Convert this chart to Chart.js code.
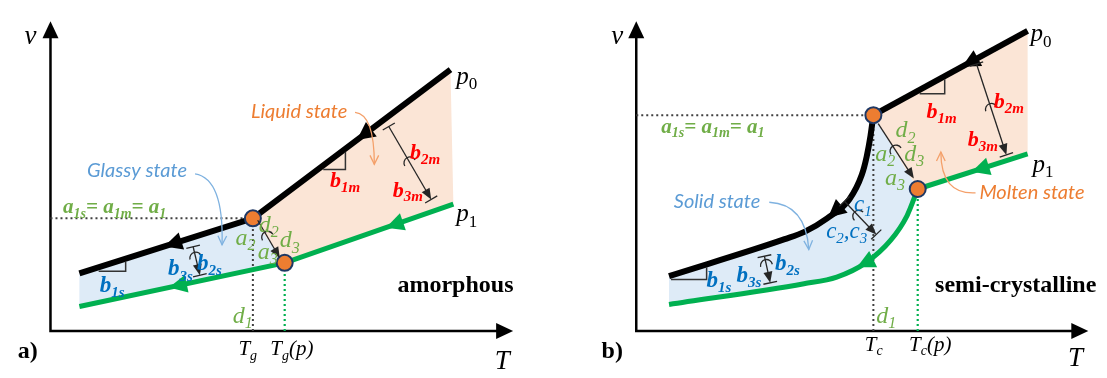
<!DOCTYPE html>
<html lang="en">
<head>
<meta charset="UTF-8">
<title>Specific volume v(T): amorphous vs semi-crystalline</title>
<script src="https://cdn.jsdelivr.net/npm/chart.js@4.4.0/dist/chart.umd.min.js"></script>
<style>
  body { margin: 0; background: #fff; }
  #wrap { position: relative; width: 1107px; height: 378px; }
  canvas { position: absolute; top: 0; }
  #chart-a { left: 0; }
  #chart-b { left: 553px; }
</style>
</head>
<body>
<div id="wrap">
  <canvas id="chart-a" width="553" height="378"></canvas>
  <canvas id="chart-b" width="554" height="378"></canvas>
</div>
<script>
// T / v in plot units, origin = corner of the axes

// a) amorphous
const aBlackT = [30, 210, 415];      // isobar p0
const aBlackV = [61, 119, 276];
const aGreenT = [30, 243, 418];      // isobar p1
const aGreenV = [26, 72, 134];

// b) semi-crystalline
const bSolidBlackT = [34, 154, 175, 198, 221, 234, 239, 243, 246];
const bSolidBlackV = [58, 97, 105, 119, 139, 165, 184, 206, 228];
const bMeltBlackT = [246, 406];
const bMeltBlackV = [228, 317];
const bSolidGreenT = [34, 174, 208, 238, 264, 281, 292];
const bSolidGreenV = [28, 50, 57, 72, 96, 122, 150];
const bMeltGreenT = [292, 406];
const bMeltGreenV = [150, 187];

// colours
const GREEN = '#00b050', PEACH = '#fbe5d6', ICE = '#deebf7';
const ORANGE = '#ed7d31', NAVY = '#1f3864', RED = '#ff0000';
const BLUE = '#0070c0', LBLUE = '#5b9bd5', LGREEN = '#70ad47', GREY = '#404040';
const SERIF = '"Liberation Serif", "DejaVu Serif", serif';
const SANS = 'Lato, "Open Sans", sans-serif';

// text styles
const AX = {size: 27, italic: true};
const PLAB = {size: 25, italic: true, subItalic: false};
const TICK = {size: 21, italic: true};
const PANEL = {size: 24, bold: true};
const NAME = {size: 24, bold: true};
const RD_B = {size: 22, bold: true, italic: true, color: RED};
const BL_B = {size: 23, bold: true, italic: true, color: BLUE};
const BL_I = {size: 23, italic: true, color: BLUE};
const GR_B = {size: 21, bold: true, italic: true, color: LGREEN};
const GR_I = {size: 24, italic: true, color: LGREEN};
const ST_OR = {size: 20, italic: true, color: ORANGE, family: SANS};
const ST_BL = {size: 20, italic: true, color: LBLUE, family: SANS};

const xy = (T, V) => T.map((t, i) => ({x: t, y: V[i]}));

function line(T, V, color, width, extra) {
  return Object.assign({
    data: xy(T, V), showLine: true, borderColor: color, borderWidth: width,
    pointRadius: 0, fill: false
  }, extra || {});
}

function dots(points) {
  return {
    data: points, showLine: false, pointRadius: 8, pointHoverRadius: 8,
    backgroundColor: ORANGE, borderColor: NAVY, borderWidth: 2
  };
}

function richText(ctx, str, x, y, st) {
  const fam = st.family || SERIF;
  const size = st.size;
  const subSize = Math.round(size * 0.66);
  const subIt = st.subItalic === undefined ? st.italic : st.subItalic;
  const font = (it, sz) => `${it ? 'italic ' : ''}${st.bold ? 'bold ' : ''}${sz}px ${fam}`;
  ctx.save();
  ctx.fillStyle = st.color || '#000';
  ctx.textBaseline = 'alphabetic';
  let w = 0;
  const runs = str.split(/(_\{[^}]*\})/).filter(Boolean).map(p => {
    const sub = p.startsWith('_{');
    const txt = sub ? p.slice(2, -1) : p;
    const f = sub ? font(subIt, subSize) : font(st.italic, size);
    ctx.font = f;
    const rw = ctx.measureText(txt).width;
    w += rw;
    return {txt, sub, f, rw};
  });
  let cx = st.align === 'center' ? x - w / 2 : x;
  const base = y + size * 0.3;
  runs.forEach(r => {
    ctx.font = r.f;
    ctx.fillText(r.txt, cx, r.sub ? base + size * 0.22 : base);
    cx += r.rw;
  });
  ctx.restore();
}

function head(ctx, tip, ang, len, hw) {
  ctx.beginPath();
  ctx.moveTo(tip.x, tip.y);
  ctx.lineTo(tip.x - len * Math.cos(ang) + hw * Math.sin(ang), tip.y - len * Math.sin(ang) - hw * Math.cos(ang));
  ctx.lineTo(tip.x - len * Math.cos(ang) - hw * Math.sin(ang), tip.y - len * Math.sin(ang) + hw * Math.cos(ang));
  ctx.closePath();
  ctx.fill();
}

// point on a dataset's polyline at a given T, plus local direction
function onLine(chart, ds, T) {
  const d = chart.data.datasets[ds].data;
  const sx = chart.scales.x, sy = chart.scales.y;
  let i = 0;
  while (i < d.length - 2 && d[i + 1].x < T) i++;
  const f = (T - d[i].x) / (d[i + 1].x - d[i].x);
  const v = d[i].y + f * (d[i + 1].y - d[i].y);
  const p0 = {x: sx.getPixelForValue(d[i].x), y: sy.getPixelForValue(d[i].y)};
  const p1 = {x: sx.getPixelForValue(d[i + 1].x), y: sy.getPixelForValue(d[i + 1].y)};
  return {x: sx.getPixelForValue(T), y: sy.getPixelForValue(v), ang: Math.atan2(p0.y - p1.y, p0.x - p1.x)};
}

function sketch(deco) {
  return {
    id: 'sketch',
    beforeDatasetsDraw(chart) {
      const ctx = chart.ctx, sx = chart.scales.x, sy = chart.scales.y;
      // shaded state regions, built from the isobar elements themselves
      deco.fills.forEach(f => {
        const up = chart.getDatasetMeta(f.up.ds).dataset;
        const lo = chart.getDatasetMeta(f.lo.ds).dataset;
        up.updateControlPoints(chart.chartArea, 'x');
        lo.updateControlPoints(chart.chartArea, 'x');
        ctx.save();
        ctx.beginPath();
        up.pathSegment(ctx, {start: 0, end: up.points.length - 1, loop: false}, {start: f.up.start, end: f.up.end, move: true});
        lo.pathSegment(ctx, {start: 0, end: lo.points.length - 1, loop: false}, {start: f.lo.start, end: f.lo.end, move: false, reverse: true});
        ctx.closePath();
        ctx.fillStyle = f.color;
        ctx.fill();
        ctx.restore();
      });
      // axes with arrows
      const o = {x: sx.getPixelForValue(0), y: sy.getPixelForValue(0)};
      const top = sy.getPixelForValue(deco.axisV), right = sx.getPixelForValue(deco.axisT);
      ctx.save();
      ctx.strokeStyle = '#000';
      ctx.fillStyle = '#000';
      ctx.lineWidth = 2.5;
      ctx.beginPath();
      ctx.moveTo(o.x, top + 10);
      ctx.lineTo(o.x, o.y);
      ctx.lineTo(right - 10, o.y);
      ctx.stroke();
      head(ctx, {x: o.x, y: top}, -Math.PI / 2, 17, 8);
      head(ctx, {x: right, y: o.y}, 0, 17, 8);
      ctx.restore();
    },
    afterDatasetsDraw(chart) {
      const ctx = chart.ctx, sx = chart.scales.x, sy = chart.scales.y;
      const P = a => ({x: sx.getPixelForValue(a[0]), y: sy.getPixelForValue(a[1])});
      ctx.save();
      // cooling direction arrows on the isobars
      deco.lineArrows.forEach(a => {
        const p = onLine(chart, a.ds, a.at);
        ctx.fillStyle = chart.data.datasets[a.ds].borderColor;
        head(ctx, p, p.ang, 18, 9);
      });
      // slope triangles
      ctx.strokeStyle = '#333';
      ctx.lineWidth = 1.5;
      deco.slopes.forEach(s => {
        const p1 = onLine(chart, s.ds, s.from), p2 = onLine(chart, s.ds, s.to);
        ctx.beginPath();
        ctx.moveTo(p1.x, p1.y + 4);
        ctx.lineTo(p2.x, p1.y + 4);
        ctx.lineTo(p2.x, p2.y + 3);
        ctx.stroke();
      });
      // path vectors
      ctx.strokeStyle = '#262626';
      ctx.fillStyle = '#262626';
      ctx.lineWidth = 1.3;
      deco.vectors.forEach(v => {
        const a = P(v.from), b = P(v.to);
        const ang = Math.atan2(b.y - a.y, b.x - a.x);
        const nx = -Math.sin(ang), ny = Math.cos(ang);
        ctx.beginPath();
        ctx.moveTo(a.x, a.y);
        ctx.lineTo(b.x - 8 * Math.cos(ang), b.y - 8 * Math.sin(ang));
        ctx.stroke();
        head(ctx, b, ang, 11, 4.5);
        if (v.bars) {
          [a, b].forEach(p => {
            ctx.beginPath();
            ctx.moveTo(p.x - 7 * nx, p.y - 7 * ny);
            ctx.lineTo(p.x + 7 * nx, p.y + 7 * ny);
            ctx.stroke();
          });
        }
        const m = {x: a.x + (b.x - a.x) * v.arc, y: a.y + (b.y - a.y) * v.arc};
        ctx.beginPath();
        ctx.arc(m.x, m.y, 6, ang + Math.PI / 2, ang + Math.PI * 1.5);
        ctx.stroke();
      });
      // callout arrows for the state names
      deco.callouts.forEach(c => {
        const a = P(c.from), k = P(c.ctrl), b = P(c.to);
        ctx.strokeStyle = c.color;
        ctx.lineWidth = 1.3;
        ctx.beginPath();
        ctx.moveTo(a.x, a.y);
        ctx.quadraticCurveTo(k.x, k.y, b.x, b.y);
        ctx.stroke();
        const ang = Math.atan2(b.y - k.y, b.x - k.x);
        ctx.beginPath();
        ctx.moveTo(b.x - 10 * Math.cos(ang - 0.45), b.y - 10 * Math.sin(ang - 0.45));
        ctx.lineTo(b.x, b.y);
        ctx.lineTo(b.x - 10 * Math.cos(ang + 0.45), b.y - 10 * Math.sin(ang + 0.45));
        ctx.stroke();
      });
      ctx.restore();
      deco.texts.forEach(t => {
        const p = P(t.at);
        richText(ctx, t.t, p.x, p.y, t.st);
      });
    }
  };
}

function build(id, xRange, datasets, deco) {
  return new Chart(document.getElementById(id), {
    type: 'scatter',
    data: {datasets},
    options: {
      responsive: false,
      animation: false,
      events: [],
      layout: {padding: 0},
      plugins: {legend: {display: false}, tooltip: {enabled: false}},
      scales: {
        x: {type: 'linear', display: false, min: xRange[0], max: xRange[1]},
        y: {type: 'linear', display: false, min: -39, max: 339}
      }
    },
    plugins: [sketch(deco)]
  });
}

// ---------- panel a ----------
const aTg = aBlackT[1], aA1 = aBlackV[1];
const aTgp = aGreenT[1], aVgp = aGreenV[1];
build('chart-a', [-42, 511], [
  dots([{x: aTg, y: aA1}, {x: aTgp, y: aVgp}]),
  line(aBlackT, aBlackV, '#000', 6),
  line(aGreenT, aGreenV, GREEN, 5),
  line([0, aTg], [aA1, aA1], GREY, 2, {borderDash: [2, 3]}),
  line([aTg, aTg], [0, aA1], GREY, 2, {borderDash: [2, 3]}),
  line([aTgp, aTgp], [0, aVgp], GREEN, 2.2, {borderDash: [2, 3]})
], {
  axisT: 480, axisV: 327,
  fills: [
    {color: ICE, up: {ds: 1, start: 0, end: 1}, lo: {ds: 2, start: 0, end: 1}},
    {color: PEACH, up: {ds: 1, start: 1, end: 2}, lo: {ds: 2, start: 1, end: 2}}
  ],
  lineArrows: [{ds: 1, at: 118}, {ds: 1, at: 318}, {ds: 2, at: 123}, {ds: 2, at: 348}],
  slopes: [{ds: 1, from: 283, to: 306}, {ds: 1, from: 50, to: 78}],
  vectors: [
    {from: [351, 216], to: [395, 139], bars: true, arc: 0.5},
    {from: [148, 89], to: [155, 59], bars: true, arc: 0.4},
    {from: [215, 117], to: [238, 77], bars: false, arc: 0.45}
  ],
  callouts: [
    {from: [316, 231], ctrl: [336, 229], to: [336, 176], color: '#f4a06a'},
    {from: [150, 166], ctrl: [180, 161], to: [178, 91], color: '#7fb2e0'}
  ],
  texts: [
    {t: 'v', at: [-27, 312], st: AX},
    {t: 'T', at: [461, -31], st: AX},
    {t: 'a)', at: [-34, -21], st: PANEL},
    {t: 'p_{0}', at: [421, 269], st: PLAB},
    {t: 'p_{1}', at: [421, 124], st: PLAB},
    {t: 'Liquid state', at: [208, 231], st: ST_OR},
    {t: 'Glassy state', at: [38, 169], st: ST_BL},
    {t: 'a_{1s}= a_{1m}= a_{1}', at: [13, 131], st: GR_B},
    {t: 'amorphous', at: [360, 49], st: NAME},
    {t: 'T_{g}', at: [195, -19], st: TICK},
    {t: 'T_{g}(p)', at: [228, -19], st: TICK},
    {t: 'd_{1}', at: [189, 16], st: GR_I},
    {t: 'b_{1s}', at: [51, 49], st: BL_B},
    {t: 'b_{3s}', at: [122, 66], st: BL_B},
    {t: 'b_{2s}', at: [152, 72], st: BL_B},
    {t: 'b_{1m}', at: [290, 159], st: RD_B},
    {t: 'b_{2m}', at: [373, 189], st: RD_B},
    {t: 'b_{3m}', at: [355, 149], st: RD_B},
    {t: 'd_{2}', at: [216, 112], st: GR_I},
    {t: 'd_{3}', at: [238, 96], st: GR_I},
    {t: 'a_{2}', at: [192, 99], st: GR_I},
    {t: 'a_{3}', at: [215, 84], st: GR_I}
  ]
});

// ---------- panel b ----------
const bTc = bMeltBlackT[0], bA1 = bMeltBlackV[0];
const bTcp = bMeltGreenT[0], bVcp = bMeltGreenV[0];
build('chart-b', [-76, 478], [
  dots([{x: bTc, y: bA1}, {x: bTcp, y: bVcp}]),
  line(bSolidBlackT, bSolidBlackV, '#000', 6, {cubicInterpolationMode: 'monotone'}),
  line(bMeltBlackT, bMeltBlackV, '#000', 6),
  line(bSolidGreenT, bSolidGreenV, GREEN, 5, {cubicInterpolationMode: 'monotone'}),
  line(bMeltGreenT, bMeltGreenV, GREEN, 5),
  line([0, bTc], [bA1, bA1], GREY, 2, {borderDash: [2, 3]}),
  line([bTc, bTc], [0, bA1], GREY, 2, {borderDash: [2, 3]}),
  line([bTcp, bTcp], [0, bVcp], GREEN, 2.2, {borderDash: [2, 3]})
], {
  axisT: 469, axisV: 327,
  fills: [
    {color: ICE, up: {ds: 1, start: 0, end: bSolidBlackT.length - 1}, lo: {ds: 3, start: 0, end: bSolidGreenT.length - 1}},
    {color: PEACH, up: {ds: 2, start: 0, end: 1}, lo: {ds: 4, start: 0, end: 1}}
  ],
  lineArrows: [{ds: 2, at: 338}, {ds: 1, at: 199}, {ds: 3, at: 229}, {ds: 4, at: 348}],
  slopes: [{ds: 2, from: 294, to: 320}, {ds: 1, from: 36, to: 73}],
  vectors: [
    {from: [353, 282], to: [384, 186], bars: true, arc: 0.5},
    {from: [251, 219], to: [288, 161], bars: false, arc: 0.5},
    {from: [216, 137], to: [249, 102], bars: true, arc: 0.45},
    {from: [133, 79], to: [139, 51], bars: true, arc: 0.35}
  ],
  callouts: [
    {from: [138, 136], ctrl: [176, 134], to: [179, 86], color: '#7fb2e0'},
    {from: [352, 146], ctrl: [316, 144], to: [316, 189], color: '#f4a06a'}
  ],
  texts: [
    {t: 'v', at: [-26, 312], st: AX},
    {t: 'T', at: [448, -28], st: AX},
    {t: 'b)', at: [-36, -21], st: PANEL},
    {t: 'p_{0}', at: [409, 314], st: PLAB},
    {t: 'p_{1}', at: [411, 176], st: PLAB},
    {t: 'Molten state', at: [356, 146], st: ST_OR},
    {t: 'Solid state', at: [39, 136], st: ST_BL},
    {t: 'a_{1s}= a_{1m}= a_{1}', at: [26, 216], st: GR_B},
    {t: 'semi-crystalline', at: [310, 49], st: NAME},
    {t: 'T_{c}', at: [237, -14], st: TICK},
    {t: 'T_{c}(p)', at: [283, -14], st: TICK},
    {t: 'd_{1}', at: [249, 16], st: GR_I},
    {t: 'b_{1m}', at: [301, 232], st: RD_B},
    {t: 'b_{2m}', at: [371, 242], st: RD_B},
    {t: 'b_{3m}', at: [344, 202], st: RD_B},
    {t: 'd_{2}', at: [269, 212], st: GR_I},
    {t: 'a_{2}', at: [248, 187], st: GR_I},
    {t: 'd_{3}', at: [278, 187], st: GR_I},
    {t: 'a_{3}', at: [258, 162], st: GR_I},
    {t: 'c_{1}', at: [226, 134], st: BL_I},
    {t: 'c_{2},c_{3}', at: [197, 106], st: BL_I},
    {t: 'b_{2s}', at: [144, 72], st: BL_B},
    {t: 'b_{3s}', at: [104, 59], st: BL_B},
    {t: 'b_{1s}', at: [73, 54], st: BL_B}
  ]
});
</script>
</body>
</html>
